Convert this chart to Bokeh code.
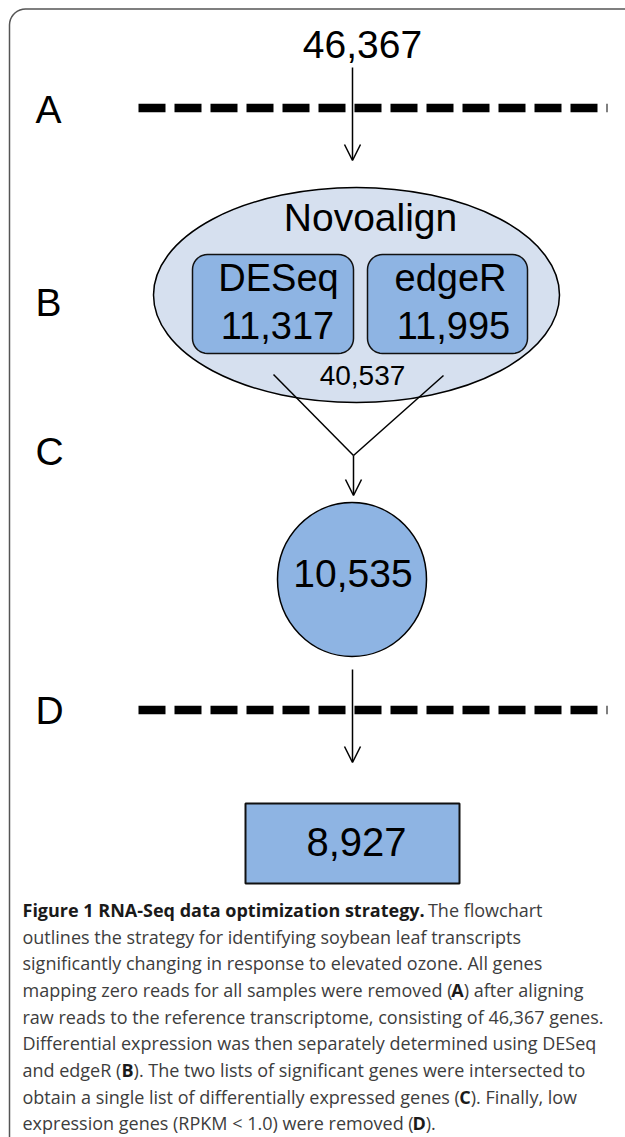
import os
import numpy as np
from bokeh.plotting import figure
from bokeh.models import Range1d, Arrow, OpenHead
from bokeh.core.properties import value
from bokeh.embed import file_html
from bokeh.resources import INLINE

# ---------------- data ----------------
stage_labels = ["A", "B", "C", "D"]
total_genes = [46367]
aligner_names = ["Novoalign"]
method_names = ["DESeq", "edgeR"]
method_counts = [11317, 11995]
aligned_genes = [40537]
intersect_genes = [10535]
final_genes = [8927]

caption_bold_title = "Figure 1 RNA-Seq data optimization strategy."
caption_lines = [
    [(caption_bold_title, True), (" The flowchart", False)],
    [("outlines the strategy for identifying soybean leaf transcripts", False)],
    [("significantly changing in response to elevated ozone. All genes", False)],
    [("mapping zero reads for all samples were removed (", False), ("A", True), (") after aligning", False)],
    [("raw reads to the reference transcriptome, consisting of 46,367 genes.", False)],
    [("Differential expression was then separately determined using DESeq", False)],
    [("and edgeR (", False), ("B", True), ("). The two lists of significant genes were intersected to", False)],
    [("obtain a single list of differentially expressed genes (", False), ("C", True), ("). Finally, low", False)],
    [("expression genes (RPKM < 1.0) were removed (", False), ("D", True), (").", False)],
]

def fmt(n):
    return f"{n:,}"

# ---------------- layout (reference pixel coords, y downward) ----------------
W, H = 625, 1137
FONT = "Liberation Sans"
CAP_FONT = "Open Sans"
BOX_FILL = "#8eb4e3"
ELL_FILL = "#d6e0ef"
BASE_K = 0.4   # empirical baseline correction (fraction of font size)

def Y(v):
    return -v

p = figure(width=W, height=H, output_backend="svg", toolbar_location=None,
           x_range=Range1d(0, W), y_range=Range1d(-H, 0),
           x_axis_location=None, y_axis_location=None, min_border=0)
p.grid.visible = False
p.outline_line_color = None
p.background_fill_color = "white"
p.border_fill_color = "white"

def round_rect(x0, y0, x1, y1, r, n=10):
    xs, ys = [], []
    corners = [(x1 - r, y0 + r, -90, 0), (x1 - r, y1 - r, 0, 90),
               (x0 + r, y1 - r, 90, 180), (x0 + r, y0 + r, 180, 270)]
    for cx, cy, a0, a1 in corners:
        t = np.radians(np.linspace(a0, a1, n))
        xs.extend(list(cx + r * np.cos(t)))
        ys.extend(list(cy + r * np.sin(t)))
    return xs, [Y(v) for v in ys]

# outer frame
bx, by = round_rect(9, 8.5, 680, 1300, 16)
p.patch(bx, by, fill_color=None, line_color="#555555", line_width=1.5)

def txt(x, y, s, size, align="center", font=FONT, color="black", bold=False):
    p.text(x=[x], y=[Y(y - BASE_K * size)], text=[s], text_font=value(font),
           text_font_size=f"{size}px", text_align=align, text_baseline="alphabetic",
           text_color=color, text_font_style="bold" if bold else "normal")

# stage labels
label_pos = [(35, 125), (35, 318), (35, 467), (35, 726)]
for lab, (lx, ly) in zip(stage_labels, label_pos):
    txt(lx, ly, lab, 39, align="left")

# step A
txt(362, 60, fmt(total_genes[0]), 39)
p.line([138, 607], [Y(107.5), Y(107.5)], line_width=8.5, line_dash="27 9", line_cap="butt", line_color="black")
p.add_layout(Arrow(x_start=352, y_start=Y(67), x_end=352, y_end=Y(160),
                   end=OpenHead(size=16, line_width=1.5, line_color="black"),
                   line_width=1.5, line_color="black"))

# step B
p.ellipse(x=[356], y=[Y(294.5)], width=[406], height=[215], fill_color=ELL_FILL,
          line_color="black", line_width=1.5)
txt(370, 233, aligner_names[0], 39)
boxes = [(192, 254, 353, 353), (367, 254, 527, 353)]
name_x = [278, 450]
count_x = [277, 453]
for (x0, y0, x1, y1), nm, ct, nx, cx in zip(boxes, method_names, method_counts, name_x, count_x):
    rx, ry = round_rect(x0, y0, x1, y1, 15)
    p.patch(rx, ry, fill_color=BOX_FILL, line_color="#111111", line_width=1.5)
    txt(nx, 293, nm, 38)
    txt(cx, 340, fmt(ct), 38)
txt(362, 386, fmt(aligned_genes[0]), 28)

# step C
p.multi_line(xs=[[273, 353], [443, 353]], ys=[[Y(374), Y(455)], [Y(375), Y(455)]],
             line_color="black", line_width=1.5)
p.add_layout(Arrow(x_start=353, y_start=Y(455), x_end=353, y_end=Y(495),
                   end=OpenHead(size=16, line_width=1.5, line_color="black"),
                   line_width=1.5, line_color="black"))
p.ellipse(x=[351.5], y=[Y(579)], width=[149], height=[154], fill_color=BOX_FILL,
          line_color="black", line_width=1.5)
txt(352.5, 589, fmt(intersect_genes[0]), 39)

# step D
p.line([138, 607], [Y(709.5), Y(709.5)], line_width=8.5, line_dash="27 9", line_cap="butt", line_color="black")
p.add_layout(Arrow(x_start=352, y_start=Y(669), x_end=352, y_end=Y(762),
                   end=OpenHead(size=16, line_width=1.5, line_color="black"),
                   line_width=1.5, line_color="black"))
p.quad(left=[245], right=[459], top=[Y(803)], bottom=[Y(883)], fill_color=BOX_FILL,
       line_color="#111111", line_width=2)
txt(356, 857, fmt(final_genes[0]), 40)

# ---------------- caption ----------------
def find_font(names):
    roots = ["/usr/share/fonts", "/usr/local/share/fonts",
             os.path.expanduser("~/.fonts"), os.path.expanduser("~/.local/share/fonts")]
    for root in roots:
        if not os.path.isdir(root):
            continue
        for dirpath, _, files in os.walk(root):
            for f in files:
                if f in names:
                    return os.path.join(dirpath, f)
    return None

measure_reg = measure_bold = None
try:
    from PIL import ImageFont
    fr = find_font(["OpenSans-Regular.ttf"])
    fb = find_font(["OpenSans-Bold.ttf"])
    if fr:
        f_r = ImageFont.truetype(fr, 100)
        measure_reg = lambda s: f_r.getlength(s) / 100.0
    if fb:
        f_b = ImageFont.truetype(fb, 100)
        measure_bold = lambda s: f_b.getlength(s) / 100.0
except Exception:
    pass
if measure_reg is None:
    measure_reg = lambda s: 0.53 * len(s)
if measure_bold is None:
    measure_bold = lambda s: 0.59 * len(s)

def seg_width(s, bold):
    return measure_bold(s) if bold else measure_reg(s)

cap_fs = 18
CAP_X = 22
base0 = 916.5
lead = 26.7
for i, line in enumerate(caption_lines):
    x = CAP_X
    yb = base0 + i * lead
    for s, b in line:
        stripped = s.lstrip(" ")
        lead_sp = s[: len(s) - len(stripped)]
        x += seg_width(lead_sp, b) * cap_fs if lead_sp else 0
        txt(x, yb, stripped, cap_fs, align="left", font=CAP_FONT,
            color="#1a1a1a" if b else "#3d3d3d", bold=b)
        x += seg_width(stripped, b) * cap_fs

open("out.html", "w").write(file_html(p, INLINE))
